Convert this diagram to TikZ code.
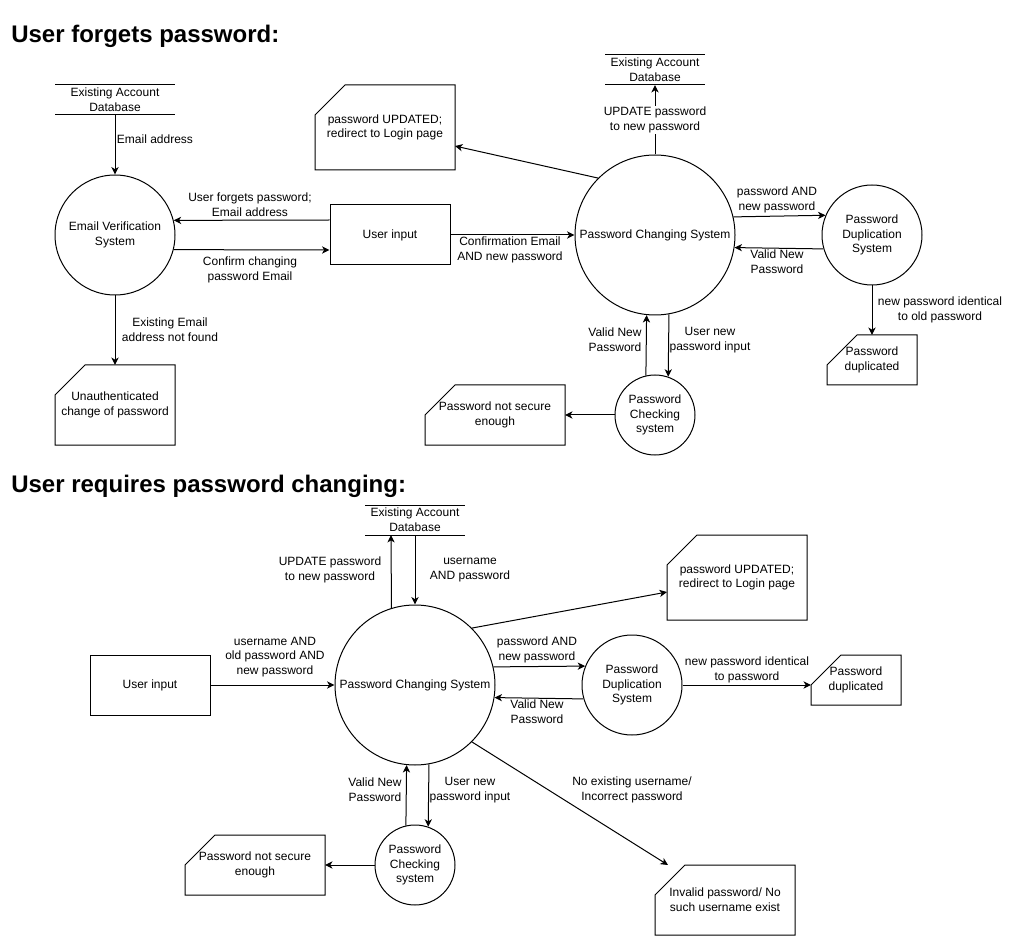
\documentclass[tikz,border=0pt]{standalone}
\usepackage{fontspec}
\setmainfont{Liberation Sans}
\usetikzlibrary{arrows.meta}
\newcommand{\cardline}[1]{\draw[line width=0.75pt] ([xshift=22.5pt]#1.north west) -- (#1.north east) -- (#1.south east) -- (#1.south west) -- ([yshift=-22.5pt]#1.north west) -- cycle;}
\newcommand{\storeline}[1]{\draw[line width=0.75pt] (#1.north west) -- (#1.north east) (#1.south west) -- (#1.south east);}
\begin{document}
\begin{tikzpicture}[x=0.75pt,y=-0.75pt,
  every node/.style={font=\fontsize{9}{11}\selectfont, inner sep=0pt, align=center},
  proc/.style={circle, draw, line width=0.75pt},
  inbox/.style={rectangle, draw, line width=0.75pt, minimum width=90pt, minimum height=45pt},
  store/.style={rectangle, outer sep=0pt, minimum height=22.5pt},
  card/.style={rectangle, outer sep=0pt},
  flow/.style={line width=0.75pt, -{Stealth[length=5.6pt,width=5.4pt,inset=1.6pt]}},
  lbl/.style={},
  onlbl/.style={fill=white, inner sep=1pt},
  title/.style={anchor=base west, font=\bfseries\fontsize{18}{21}\selectfont}
]
\fill[white] (0,0) rectangle (1011,941);
\useasboundingbox (0,0) rectangle (1011,941);

% ---------- Top diagram ----------
\node[title] (t1) at (11,43) {User forgets password:};
\node[store, minimum width=90pt] (db1) at (115,100) {Existing Account\\Database};
\node[proc, minimum size=90pt] (evs) at (115,235) {Email Verification\\System};
\node[inbox] (ui1) at (390,235) {User input};
\node[card, minimum width=90pt, minimum height=60pt] (unauth) at (115,405) {Unauthenticated\\change of password};
\node[card, minimum width=105pt, minimum height=63.75pt] (upd1) at (385,127.5) {password UPDATED;\\redirect to Login page};
\node[store, minimum width=75pt] (db2) at (655,70) {Existing Account\\Database};
\node[proc, minimum size=120pt] (pcs1) at (655,235) {Password Changing System};
\node[proc, minimum size=75pt] (dup1) at (872,235) {Password\\Duplication\\System};
\node[card, minimum width=67.5pt, minimum height=37.5pt] (dupc1) at (872,360) {Password\\duplicated};
\node[proc, minimum size=60pt] (chk1) at (655,415) {Password\\Checking\\system};
\node[card, minimum width=105pt, minimum height=45pt] (nsec1) at (495,415) {Password not secure\\enough};

\storeline{db1}
\storeline{db2}
\cardline{unauth}
\cardline{upd1}
\cardline{dupc1}
\cardline{nsec1}

\draw[flow] (db1.south) -- (evs.north);
\draw[flow] ([yshift=11.25pt]ui1.west) -- (evs.14.48);
\draw[flow] (evs.-14.48) -- ([yshift=-11.25pt]ui1.west);
\draw[flow] (evs.south) -- (unauth.north);
\draw[flow] (ui1.east) -- (pcs1.west);
\draw[flow] (pcs1.135) -- ([yshift=-13.9pt]upd1.east);
\draw[flow] (pcs1.north) -- (db2.south);
\draw[flow] (pcs1.13.74) -- (dup1.157.67);
\draw[flow] (dup1.-164.93) -- (pcs1.-9.35);
\draw[flow] (dup1.south) -- (dupc1.north);
\draw[flow] (chk1.103) -- (pcs1.-96.46);
\draw[flow] (pcs1.-80.65) -- (chk1.71.03);
\draw[flow] (chk1.west) -- (nsec1.east);

\node[lbl] (l1) at (155,139) {Email address};
\node[lbl] (l2) at (250,205) {User forgets password;\\Email address};
\node[lbl] (l3) at (250,270) {Confirm changing\\password Email};
\node[lbl] (l4) at (170,330) {Existing Email\\address not found};
\node[lbl] (l5) at (510,250) {Confirmation Email\\AND new password};
\node[onlbl] (l6) at (655,120) {UPDATE password\\to new password};
\node[lbl] (l7) at (777,200) {password AND\\new password};
\node[lbl] (l8) at (777,262) {Valid New\\Password};
\node[lbl] (l9) at (940,310) {new password identical\\to old password};
\node[lbl] (l10) at (615,340) {Valid New\\Password};
\node[lbl] (l11) at (710,340) {User new\\password input};

% ---------- Bottom diagram ----------
\node[title] (t2) at (11,492) {User requires password changing:};
\node[store, minimum width=75pt] (db3) at (415,520) {Existing Account\\Database};
\node[proc, minimum size=120pt] (pcs2) at (415,685) {Password Changing System};
\node[inbox] (ui2) at (150,685) {User input};
\node[card, minimum width=105pt, minimum height=63.75pt] (upd2) at (737,577.5) {password UPDATED;\\redirect to Login page};
\node[proc, minimum size=75pt] (dup2) at (632,685) {Password\\Duplication\\System};
\node[card, minimum width=67.5pt, minimum height=37.5pt] (dupc2) at (856,680) {Password\\duplicated};
\node[proc, minimum size=60pt] (chk2) at (415,865) {Password\\Checking\\system};
\node[card, minimum width=105pt, minimum height=45pt] (nsec2) at (255,865) {Password not secure\\enough};
\node[card, minimum width=105pt, minimum height=52.5pt] (inval) at (725,900) {Invalid password/ No\\such username exist};

\storeline{db3}
\cardline{upd2}
\cardline{dupc2}
\cardline{nsec2}
\cardline{inval}

\draw[flow] (ui2.east) -- (pcs2.west);
\draw[flow] (pcs2.107.46) -- ([xshift=-18pt]db3.south);
\draw[flow] (db3.south) -- (pcs2.north);
\draw[flow] (pcs2.45) -- ([yshift=-10.9pt]upd2.west);
\draw[flow] (pcs2.13.0) -- (dup2.158.9);
\draw[flow] (dup2.-164.93) -- (pcs2.-9.35);
\draw[flow] (dup2.east) -- ([yshift=-3.75pt]dupc2.west);
\draw[flow] (chk2.103) -- (pcs2.-96.46);
\draw[flow] (pcs2.-80.65) -- (chk2.71.03);
\draw[flow] (chk2.west) -- (nsec2.east);
\draw[flow] (pcs2.-45) -- ([xshift=9.75pt]inval.north west);

\node[lbl] (m1) at (275,657) {username AND\\old password AND\\new password};
\node[lbl] (m2) at (330,570) {UPDATE password\\to new password};
\node[lbl] (m3) at (470,570) {username\\AND password};
\node[lbl] (m4) at (537,650) {password AND\\new password};
\node[lbl] (m5) at (537,712) {Valid New\\Password};
\node[lbl] (m6) at (747,670) {new password identical\\to password};
\node[lbl] (m7) at (375,790) {Valid New\\Password};
\node[lbl] (m8) at (470,790) {User new\\password input};
\node[lbl] (m9) at (632,790) {No existing username/\\Incorrect password};
\end{tikzpicture}
\end{document}
